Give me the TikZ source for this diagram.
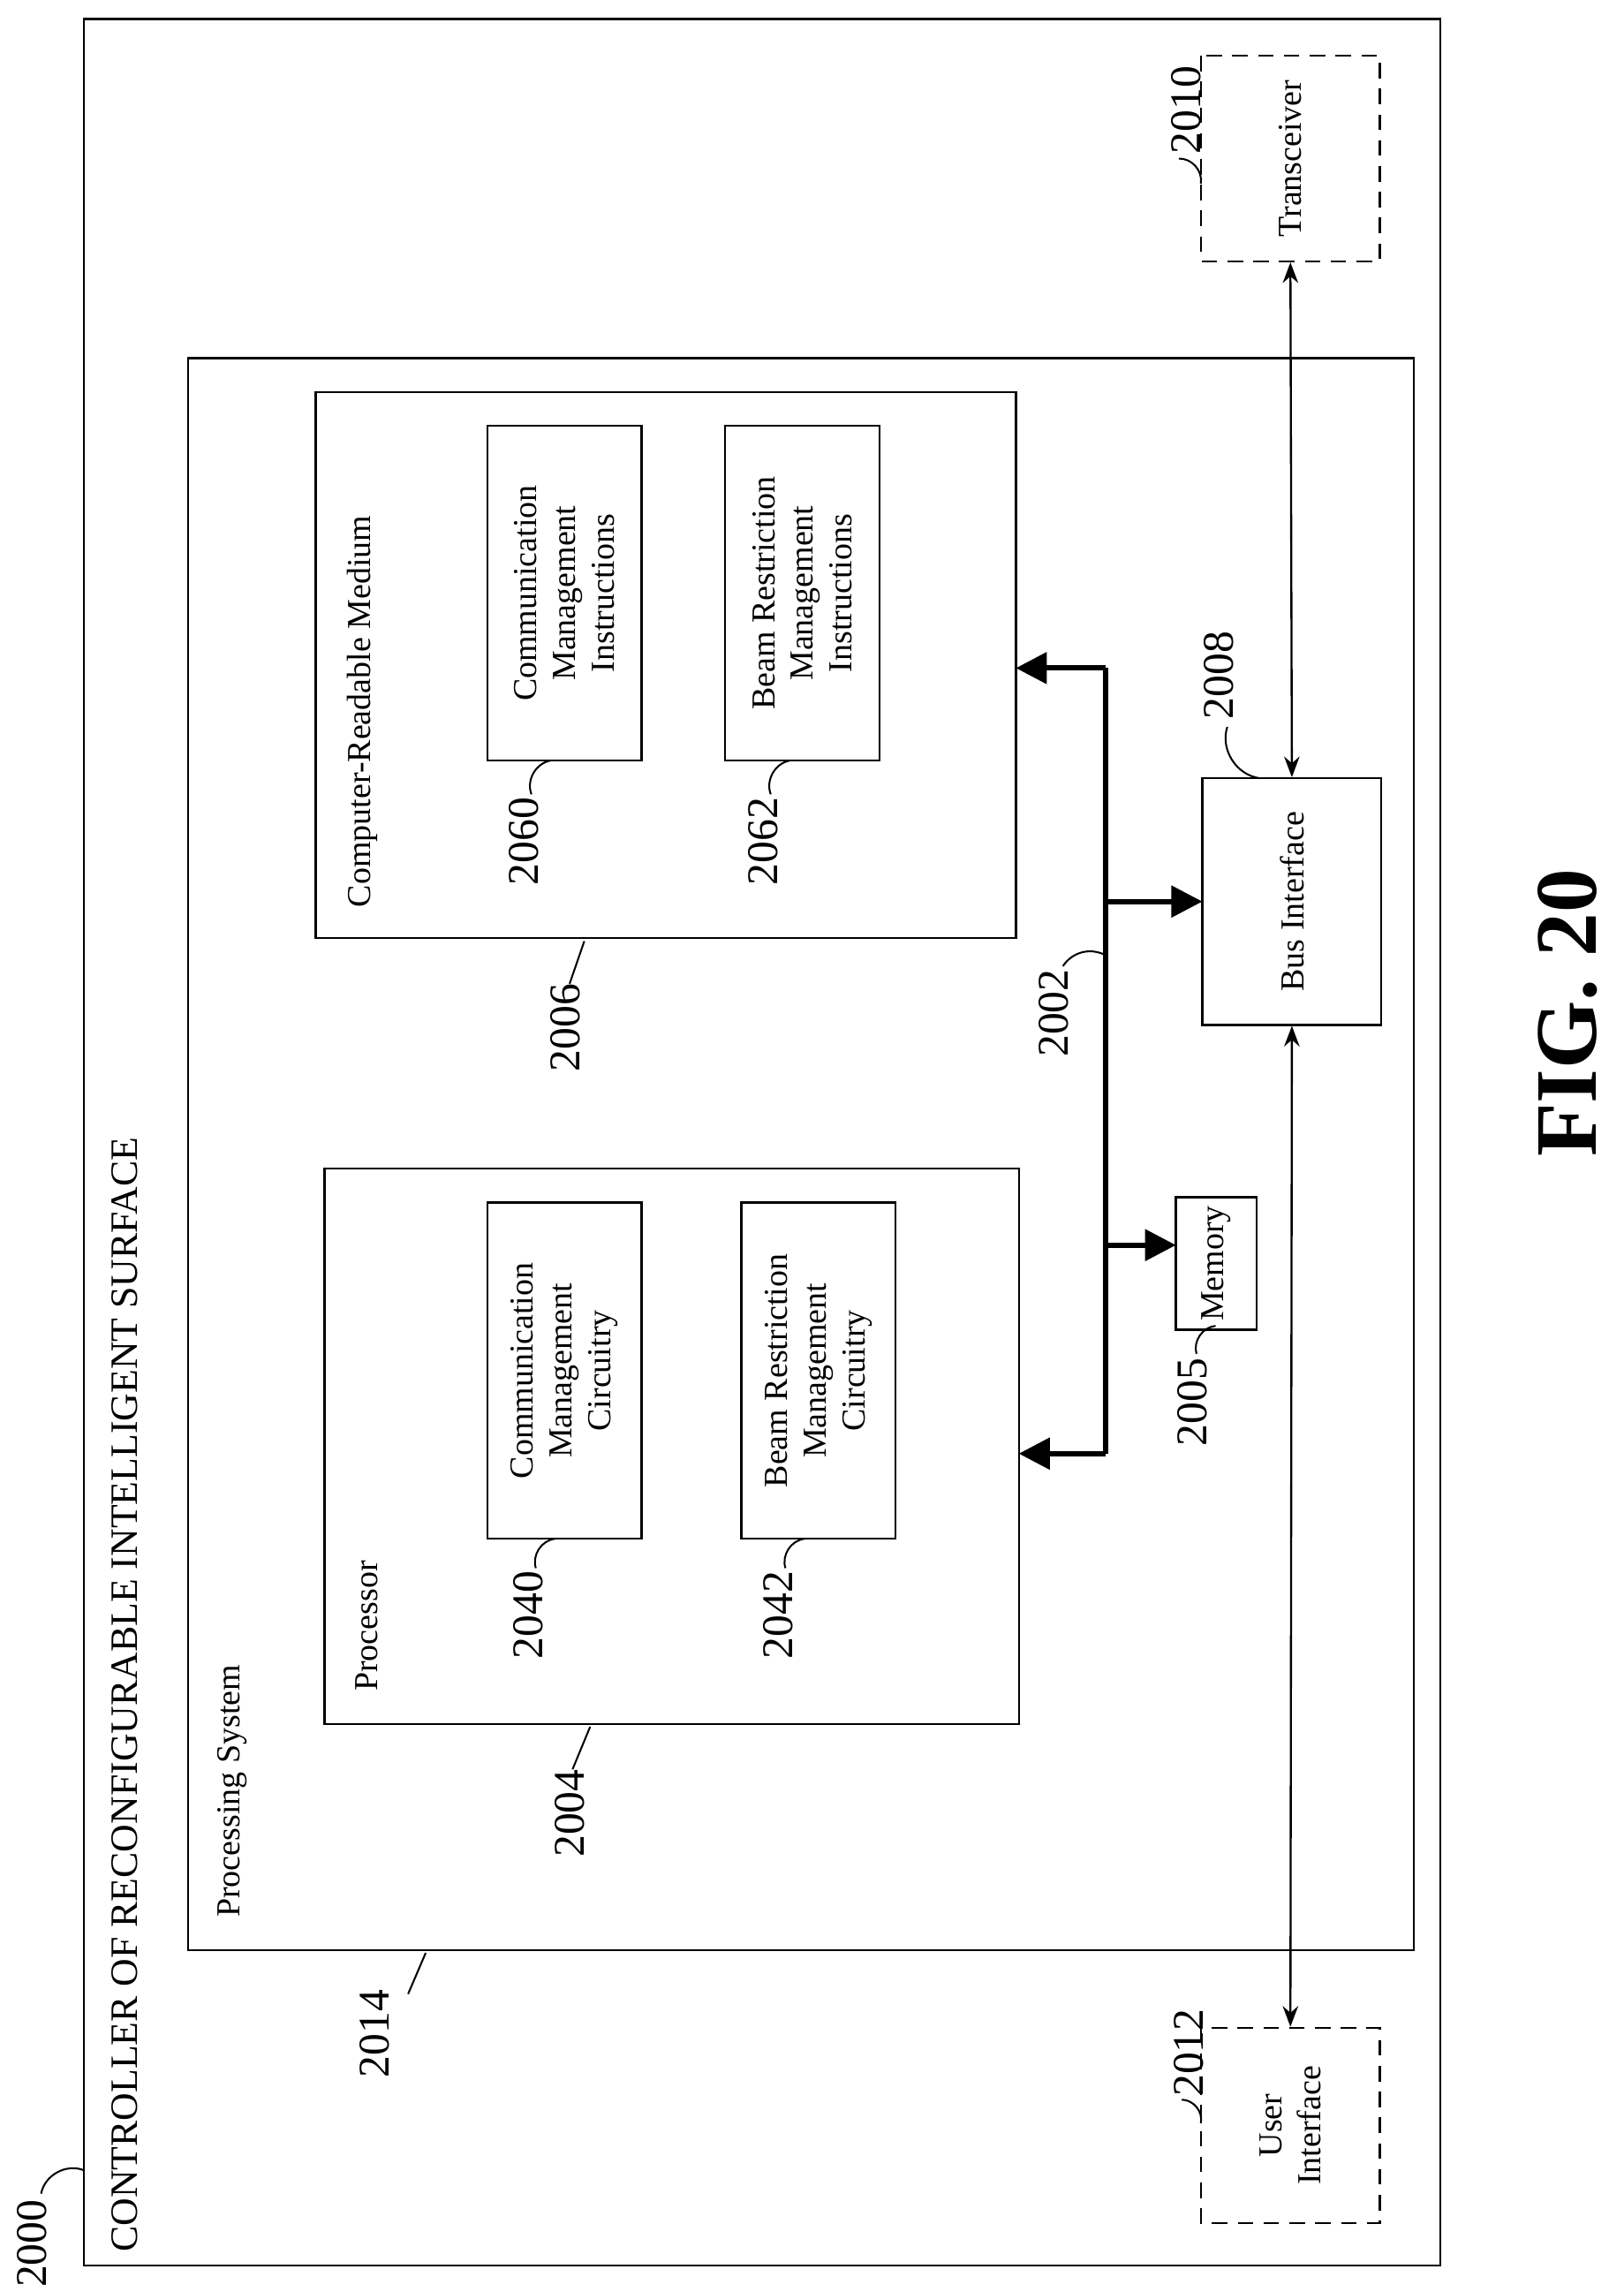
\documentclass[tikz,border=0pt]{standalone}
\usepackage{fontspec}
\setmainfont{Liberation Serif}
\usetikzlibrary{arrows.meta,positioning}
\begin{document}
\begin{tikzpicture}[x=0.02cm,y=-0.02cm,
    box/.style={draw,line width=0.8pt},
    dbox/.style={draw,line width=0.8pt,dash pattern=on 6pt off 4pt},
    txt/.style={rotate=90,align=center,font=\fontsize{13}{15}\selectfont},
    num/.style={rotate=90,font=\fontsize{17}{19}\selectfont},
    lead/.style={line width=0.7pt},
    bus/.style={line width=2pt,-{Triangle[length=12pt,width=12pt]}},
    dbl/.style={line width=0.8pt,{Stealth[length=8pt]}-{Stealth[length=8pt]}}
]
    \useasboundingbox (0,0) rectangle (1106,1561);
    % boxes
    \draw[box] (57,13) rectangle (981,1543);
    \draw[box] (128,244) rectangle (963,1328);
    \draw[box] (221,796) rectangle (694,1174);
    \draw[box] (215,267) rectangle (692,639);
    \node[box,txt,minimum width=4.58cm,minimum height=2.1cm] (cmc) at (384.5,933.5) {Communication\\Management\\Circuitry};
    \node[box,txt,minimum width=4.58cm,minimum height=2.1cm] (brc) at (557.5,933.5) {Beam Restriction\\Management\\Circuitry};
    \node[box,txt,minimum width=4.56cm,minimum height=2.1cm] (cmi) at (384.5,404) {Communication\\Management\\Instructions};
    \node[box,txt,minimum width=4.56cm,minimum height=2.1cm] (bri) at (546.5,404) {Beam Restriction\\Management\\Instructions};
    \node[box,txt,minimum width=1.7cm,minimum height=1.1cm] (mem) at (828.5,860.5) {Memory};
    \node[box,txt,minimum width=3.36cm,minimum height=2.44cm] (bif) at (880,614) {Bus Interface};
    \node[dbox,txt,minimum width=2.8cm,minimum height=2.44cm] (trx) at (879,108) {Transceiver};
    \node[dbox,txt,minimum width=2.66cm,minimum height=2.44cm] (uif) at (879,1447.5) {User\\Interface};
    % titles
    \node[txt,anchor=north west,font=\fontsize{15}{17}\selectfont] (ttl) at (70,1540) {CONTROLLER OF RECONFIGURABLE INTELLIGENT SURFACE};
    \node[txt,anchor=north west] (pst) at (142,1312) {Processing System};
    \node[txt,anchor=north west] (prc) at (236,1158) {Processor};
    \node[txt,anchor=north west] (crm) at (230,624) {Computer-Readable Medium};
    \node[rotate=90,font=\bfseries\fontsize{34}{38}\selectfont] (fig) at (1068,690) {FIG. 20};
    % bus
    \coordinate (bt) at (753,455);
    \coordinate (bb) at (753,990);
    \draw[line width=2pt] (bt) -- (bb);
    \draw[bus] (bt) -- (692,455);
    \draw[bus] (bb) -- (694,990);
    \draw[bus] (753,614) -- (819,614);
    \draw[bus] (753,848) -- (801,848);
    \draw[dbl] (trx.west) -- (bif.east);
    \draw[dbl] (bif.west) -- (uif.east);
    % reference numbers
    \node[num] (n2000) at (22,1528) {2000};
    \draw[lead] (28,1494) to[bend left=50] (57,1478);
    \node[num] (n2014) at (255,1385) {2014};
    \draw[lead] (278,1358) -- (290,1330);
    \node[num] (n2004) at (388,1235) {2004};
    \draw[lead] (390,1205) -- (402,1176);
    \node[num] (n2006) at (385,700) {2006};
    \draw[lead] (388,670) -- (398,641);
    \node[num] (n2002) at (718,690) {2002};
    \draw[lead] (724,658) to[bend left=40] (752,650);
    \node[num] (n2005) at (812,955) {2005};
    \draw[lead] (815,922) to[bend left=50] (828,903);
    \node[num] (n2008) at (830,460) {2008};
    \draw[lead] (836,495) to[bend right=50] (858,530);
    \node[num] (n2010) at (808,75) {2010};
    \draw[lead] (803,108) to[bend left=50] (818,125);
    \node[num] (n2012) at (810,1398) {2012};
    \draw[lead] (805,1430) to[bend left=50] (818,1446);
    \node[num] (n2040) at (360,1100) {2040};
    \draw[lead] (365,1068) to[bend left=50] (378,1048);
    \node[num] (n2042) at (530,1100) {2042};
    \draw[lead] (535,1068) to[bend left=50] (548,1048);
    \node[num] (n2060) at (357,573) {2060};
    \draw[lead] (362,541) to[bend left=50] (375,518);
    \node[num] (n2062) at (520,573) {2062};
    \draw[lead] (525,541) to[bend left=50] (538,518);
\end{tikzpicture}
\end{document}
